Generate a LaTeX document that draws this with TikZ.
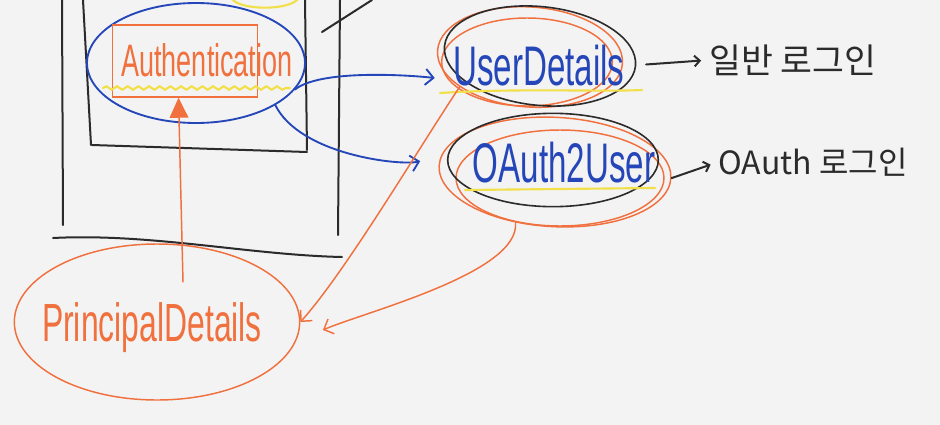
\documentclass[tikz,border=0pt]{standalone}
\usepackage{fontspec}
\setmainfont{Liberation Sans}
\newfontfamily\kofont{Noto Sans CJK KR}
\usetikzlibrary{shapes.geometric,arrows.meta,decorations.pathmorphing}
\definecolor{bg}{HTML}{F3F3F3}
\definecolor{pen}{HTML}{2B2B2B}
\definecolor{bluepen}{HTML}{2446B8}
\definecolor{orangepen}{HTML}{F0703E}
\definecolor{yellowpen}{HTML}{F2E04A}
\newcommand{\tallTxt}[1]{\scalebox{0.92}[1.55]{#1}}
\begin{document}
\begin{tikzpicture}[x=0.75pt,y=-0.75pt,
  frame/.style={draw=pen, line width=1.5pt, line cap=round},
  blu/.style={draw=bluepen, line width=1.4pt, line cap=round},
  org/.style={draw=orangepen, line width=1.1pt, line cap=round},
  yel/.style={draw=yellowpen, line width=1.6pt, line cap=round},
  ell/.style={ellipse, inner sep=0},
  lbl/.style={inner sep=0},
  barb/.style={-{Straight Barb[length=6pt,width=12pt]}},
  smallbarb/.style={-{Straight Barb[length=4pt,width=8pt]}}
]
\fill[bg] (0,0) rectangle (940,425);
\clip (0,0) rectangle (940,425);

% frames (screen sketch)
\draw[frame] (62,0) -- (63,225);
\draw[frame] (340,0) -- (338,235);
\draw[frame] (53,238) .. controls (150,233) and (250,255) .. (342,257);
\draw[frame] (83,0) -- (91,145);
\draw[frame] (305,0) -- (307,150);
\draw[frame] (92,145) -- (307,152);
\draw[frame] (322,32) -- (372,0);
\draw[yel] (265,-3) ellipse [x radius=25pt, y radius=8pt];

% Authentication
\node[ell, blu, minimum width=163.5pt, minimum height=90pt] (authell) at (196,63) {};
\node[draw=orangepen, line width=1.1pt, minimum width=109pt, minimum height=54pt] (authbox) at (185,61) {};
\node[lbl, text=orangepen, font=\fontsize{22}{24}\selectfont] (authtext) at (207,60) {\tallTxt{Authentication}};
\draw[yel, decorate, decoration={snake, amplitude=1.3pt, segment length=8pt}] (103,88) -- (290,88);

% UserDetails
\node[ell, org, rotate=-4, minimum width=139pt, minimum height=75pt] (udell) at (530,57) {};
\draw[org] (527,62) ellipse [x radius=64pt, y radius=33pt];
\draw[frame, line width=1.2pt] (540,56) ellipse [x radius=72pt, y radius=37pt, rotate=-6];
\node[lbl, text=bluepen, font=\fontsize{27}{29}\selectfont] (udtext) at (539,66) {\tallTxt{UserDetails}};
\draw[yel] (440,93) .. controls (520,88) and (600,92) .. (642,90);

% OAuth2User
\node[ell, org, rotate=-3, minimum width=174pt, minimum height=82pt] (oaell) at (555,172) {};
\draw[org] (560,178) ellipse [x radius=78pt, y radius=36pt];
\draw[frame, line width=1.2pt] (553,160) ellipse [x radius=79pt, y radius=35pt];
\node[lbl, text=bluepen, font=\fontsize{27}{29}\selectfont] (oatext) at (564,163) {\tallTxt{OAuth2User}};
\draw[yel] (465,190) -- (655,188);

% PrincipalDetails
\node[ell, org, minimum width=214pt, minimum height=117pt] (pdell) at (157,322) {};
\node[lbl, text=orangepen, font=\fontsize{26}{28}\selectfont] (pdtext) at (152,328) {\tallTxt{PrincipalDetails}};
\coordinate (upstart) at (183,282);

% Korean labels
\node[lbl, text=pen, font=\kofont\fontsize{26}{28}\selectfont] (ilban) at (793,60) {일반 로그인};
\node[lbl, text=pen, font=\kofont\fontsize{24}{26}\selectfont] (oauthko) at (813,162) {OAuth 로그인};

% connectors
\draw[blu, barb, shorten >=12pt] (authell.-15) .. controls +(25,-20) and +(-45,-5) .. (udell.200);
\draw[blu, barb, shorten >=16pt] (authell.-28) .. controls +(25,50) and +(-40,10) .. (oaell.175);
\draw[org, -{Triangle[length=15pt,width=14pt]}, fill=orangepen] (upstart) -- (authbox.-100);
\draw[org, barb] (udell.207) .. controls +(-40,60) and +(45,-50) .. (pdell.east);
\draw[org, barb, shorten >=22pt] (oaell.235) .. controls +(5,50) and +(70,-30) .. (pdell.-8);
\draw[frame, smallbarb, shorten <=16pt, shorten >=6pt] (udtext.east) -- (ilban.west);
\draw[frame, smallbarb, shorten >=6pt] (oaell.east) -- (oauthko.west);
\end{tikzpicture}
\end{document}
